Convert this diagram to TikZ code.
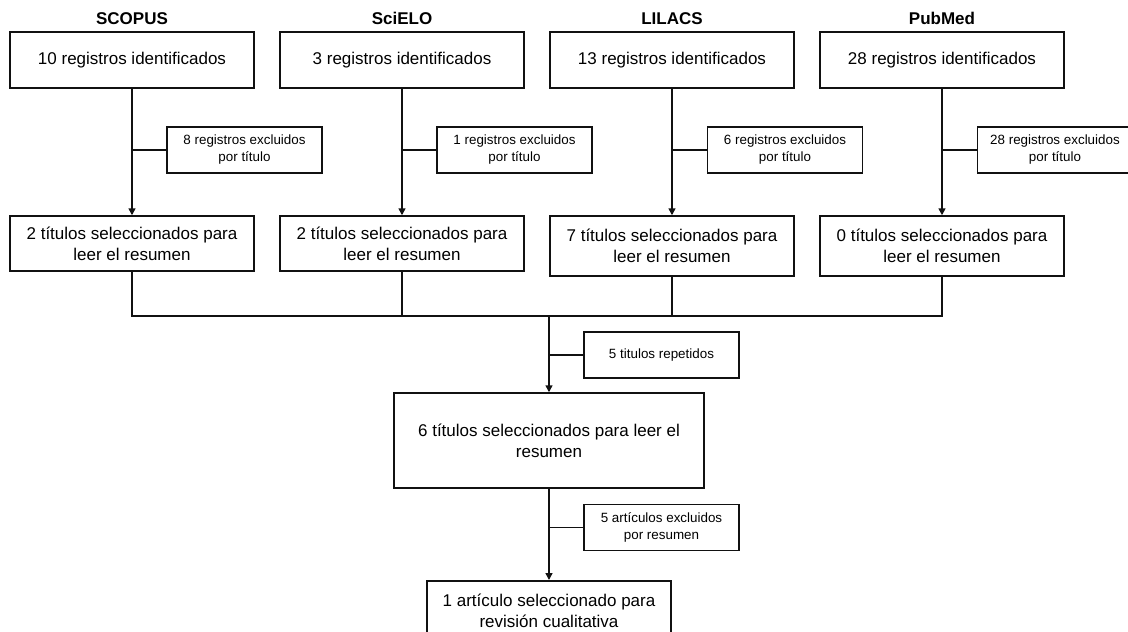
\documentclass[tikz,border=0pt]{standalone}
\usepackage{fontspec}
\setmainfont{Liberation Sans}
\usetikzlibrary{arrows.meta}
\definecolor{WHITE}{HTML}{FFFFFF}
\definecolor{BLACK}{HTML}{111111}
\newcommand*{\BigText}{\fontsize{17}{21}\selectfont}
\newcommand*{\SmallText}{\fontsize{13.4}{17}\selectfont}
\tikzset{
  stagebox/.style={draw=BLACK, line width=1.5pt, align=center, inner sep=0pt, minimum width=244pt, font=\BigText},
  dropbox/.style={draw=BLACK, line width=1.5pt, align=center, inner sep=0pt, minimum width=155pt, minimum height=46pt, font=\SmallText},
  dbname/.style={font=\BigText\bfseries, anchor=base},
  flow/.style={BLACK, line width=1.5pt, -{Triangle[length=7pt,width=7pt]}},
  link/.style={BLACK, line width=1.5pt},
}

\begin{document}
\begin{tikzpicture}[x=1pt, y=-1pt]
    \useasboundingbox[fill=WHITE] (0,0) rectangle (1128,632);
    % Databases
    \node[dbname] (scopus) at (132,24.5) {SCOPUS};
    \node[dbname] (scielo) at (402,24.5) {SciELO};
    \node[dbname] (lilacs) at (672,24.5) {LILACS};
    \node[dbname] (pubmed) at (942,24.5) {PubMed};
    % Identified
    \node[stagebox, minimum height=56pt] (scopusId) at (132,60) {10 registros identificados};
    \node[stagebox, minimum height=56pt] (scieloId) at (402,60) {3 registros identificados};
    \node[stagebox, minimum height=56pt] (lilacsId) at (672,60) {13 registros identificados};
    \node[stagebox, minimum height=56pt] (pubmedId) at (942,60) {28 registros identificados};
    % Excluded by title
    \node[dropbox] (scopusEx) at (244.5,150) {8 registros excluidos\\por título};
    \node[dropbox] (scieloEx) at (514.5,150) {1 registros excluidos\\por título};
    \node[dropbox] (lilacsEx) at (785,150) {6 registros excluidos\\por título};
    \node[dropbox] (pubmedEx) at (1055,150) {28 registros excluidos\\por título};
    % Selected titles
    \node[stagebox, minimum height=55pt] (scopusSel) at (132,243.5) {2 títulos seleccionados para\\leer el resumen};
    \node[stagebox, minimum height=55pt] (scieloSel) at (402,243.5) {2 títulos seleccionados para\\leer el resumen};
    \node[stagebox, minimum height=60pt] (lilacsSel) at (672,246) {7 títulos seleccionados para\\leer el resumen};
    \node[stagebox, minimum height=60pt] (pubmedSel) at (942,246) {0 títulos seleccionados para\\leer el resumen};
    % Column arrows
    \draw[flow] (scopusId) -- (scopusSel);
    \draw[flow] (scieloId) -- (scieloSel);
    \draw[flow] (lilacsId) -- (lilacsSel);
    \draw[flow] (pubmedId) -- (pubmedSel);
    \draw[link] (scopusEx.west) -- (scopusEx.west -| scopusId.south);
    \draw[link] (scieloEx.west) -- (scieloEx.west -| scieloId.south);
    \draw[link] (lilacsEx.west) -- (lilacsEx.west -| lilacsId.south);
    \draw[link] (pubmedEx.west) -- (pubmedEx.west -| pubmedId.south);
    % Merge
    \coordinate (merge) at (549,316);
    \draw[link] (scopusSel.south) |- (merge);
    \draw[link] (pubmedSel.south) |- (merge);
    \draw[link] (scieloSel.south) -- (scieloSel.south |- merge);
    \draw[link] (lilacsSel.south) -- (lilacsSel.south |- merge);
    % Lower part
    \node[dropbox] (repeated) at (661.5,355) {5 titulos repetidos};
    \node[stagebox, minimum width=310pt, minimum height=95pt] (sixSel) at (549,440.5) {6 títulos seleccionados para leer el\\resumen};
    \node[dropbox] (abstractEx) at (661.5,527.5) {5 artículos excluidos\\por resumen};
    \node[stagebox, minimum height=60pt, anchor=north] (final) at (549,580) {1 artículo seleccionado para\\revisión cualitativa};
    \draw[flow] (merge) -- (sixSel.north);
    \draw[link] (repeated.west) -- (repeated.west -| merge);
    \draw[flow] (sixSel) -- (final);
    \draw[link] (abstractEx.west) -- (abstractEx.west -| sixSel.south);
\end{tikzpicture}
\end{document}
